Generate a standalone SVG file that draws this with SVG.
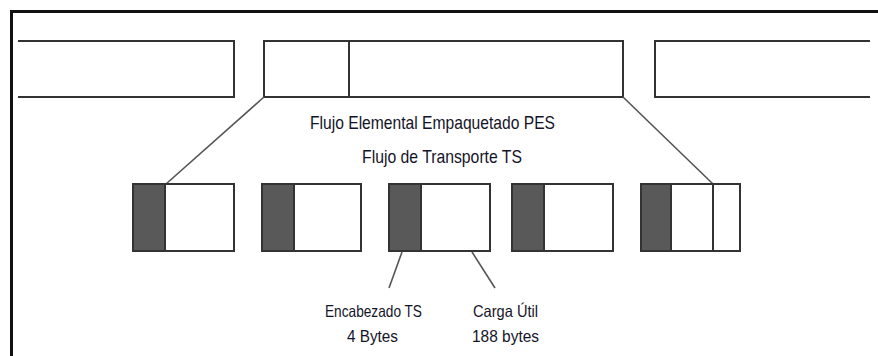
<svg xmlns="http://www.w3.org/2000/svg" width="878" height="356" viewBox="0 0 878 356">
<style>
.frame{fill:none;stroke:#111;stroke-width:3}
.box{fill:#fff;stroke:#333;stroke-width:2}
.open{fill:none;stroke:#333;stroke-width:2}
.hdr{fill:#595959;stroke:#333;stroke-width:2}
.div{stroke:#333;stroke-width:2}
.con{stroke:#555;stroke-width:1.6;fill:none}
.t{font-family:"Liberation Sans",Arial,sans-serif;fill:#141428}
</style>
<rect width="878" height="356" fill="#fff"/>
<path class="frame" d="M11.5,356 V11.5 H878"/>
<g id="pes-left"><path class="open" d="M18,41 H234 V97 H18"/></g>
<g id="pes-mid"><rect class="box" x="264" y="41" width="359" height="56"/><line class="div" x1="349" y1="41" x2="349" y2="97"/></g>
<g id="pes-right"><path class="open" d="M870,41 H655 V97 H870"/></g>
<g id="connectors">
<line class="con" x1="264" y1="97" x2="166" y2="184"/>
<line class="con" x1="623" y1="97" x2="713" y2="184"/>
<line class="con" x1="402" y1="252" x2="389" y2="288"/>
<line class="con" x1="472" y1="252" x2="495" y2="288"/>
</g>
<g id="ts1"><rect class="box" x="133" y="184" width="101" height="67"/><rect class="hdr" x="133" y="184" width="32" height="67"/></g>
<g id="ts2"><rect class="box" x="262" y="184" width="99" height="67"/><rect class="hdr" x="262" y="184" width="32" height="67"/></g>
<g id="ts3"><rect class="box" x="389" y="184" width="101" height="67"/><rect class="hdr" x="389" y="184" width="32" height="67"/></g>
<g id="ts4"><rect class="box" x="512" y="184" width="101" height="67"/><rect class="hdr" x="512" y="184" width="32" height="67"/></g>
<g id="ts5"><rect class="box" x="641" y="184" width="99" height="67"/><rect class="hdr" x="641" y="184" width="30" height="67"/><line class="div" x1="713" y1="184" x2="713" y2="251"/></g>
<g id="labels">
<text class="t" x="310" y="129" font-size="18.5" textLength="245" lengthAdjust="spacingAndGlyphs">Flujo Elemental Empaquetado PES</text>
<text class="t" x="362" y="163" font-size="18.5" textLength="160" lengthAdjust="spacingAndGlyphs">Flujo de Transporte TS</text>
<text class="t" x="325" y="317" font-size="16.5" textLength="97" lengthAdjust="spacingAndGlyphs">Encabezado TS</text>
<text class="t" x="347" y="342" font-size="16.5" textLength="51" lengthAdjust="spacingAndGlyphs">4 Bytes</text>
<text class="t" x="473" y="317" font-size="16.5" textLength="65" lengthAdjust="spacingAndGlyphs">Carga Útil</text>
<text class="t" x="472" y="342" font-size="16.5" textLength="67" lengthAdjust="spacingAndGlyphs">188 bytes</text>
</g>
</svg>
